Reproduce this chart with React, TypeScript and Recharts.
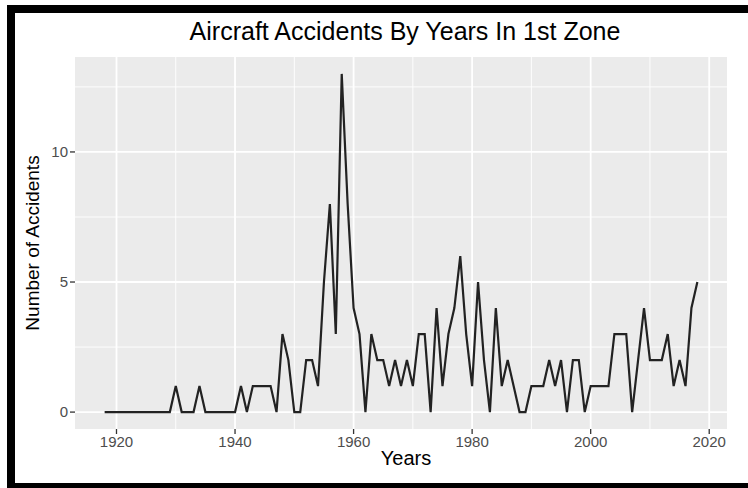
import { LineChart, Line, XAxis, YAxis, CartesianGrid, ReferenceLine } from 'recharts';

// Years on the x axis
const years = [
  1918, 1919, 1920, 1921, 1922, 1923, 1924, 1925, 1926, 1927,
  1928, 1929, 1930, 1931, 1932, 1933, 1934, 1935, 1936, 1937,
  1938, 1939, 1940, 1941, 1942, 1943, 1944, 1945, 1946, 1947,
  1948, 1949, 1950, 1951, 1952, 1953, 1954, 1955, 1956, 1957,
  1958, 1959, 1960, 1961, 1962, 1963, 1964, 1965, 1966, 1967,
  1968, 1969, 1970, 1971, 1972, 1973, 1974, 1975, 1976, 1977,
  1978, 1979, 1980, 1981, 1982, 1983, 1984, 1985, 1986, 1987,
  1988, 1989, 1990, 1991, 1992, 1993, 1994, 1995, 1996, 1997,
  1998, 1999, 2000, 2001, 2002, 2003, 2004, 2005, 2006, 2007,
  2008, 2009, 2010, 2011, 2012, 2013, 2014, 2015, 2016, 2017,
  2018,
];

// Number of accidents per year
const accidents = [
  0, 0, 0, 0, 0, 0, 0, 0, 0, 0,
  0, 0, 1, 0, 0, 0, 1, 0, 0, 0,
  0, 0, 0, 1, 0, 1, 1, 1, 1, 0,
  3, 2, 0, 0, 2, 2, 1, 5, 8, 3,
  13, 8, 4, 3, 0, 3, 2, 2, 1, 2,
  1, 2, 1, 3, 3, 0, 4, 1, 3, 4,
  6, 3, 1, 5, 2, 0, 4, 1, 2, 1,
  0, 0, 1, 1, 1, 2, 1, 2, 0, 2,
  2, 0, 1, 1, 1, 1, 3, 3, 3, 0,
  2, 4, 2, 2, 2, 3, 1, 2, 1, 4,
  5,
];

const xTicks = [1920, 1940, 1960, 1980, 2000, 2020];
const xMinor = [1930, 1950, 1970, 1990, 2010];
const yTicks = [0, 5, 10];
const yMinor = [2.5, 7.5, 12.5];

const data = years.map((year, i) => ({ year, count: accidents[i] }));

const FONT = '"Liberation Sans", Arial, sans-serif';

export default function App() {
  return (
    <div
      style={{
        position: 'absolute',
        left: 0,
        top: 0,
        width: 748,
        height: 488,
        overflow: 'hidden',
        background: '#fff',
        fontFamily: FONT,
      }}
    >
      {/* black frame of the screenshot */}
      <div
        style={{
          position: 'absolute',
          left: 7,
          top: 5,
          width: 800,
          height: 486,
          boxSizing: 'border-box',
          borderTop: '8px solid #000',
          borderLeft: '8px solid #000',
          borderBottom: '8px solid #000',
        }}
      />

      <svg width={748} height={488} style={{ position: 'absolute', left: 0, top: 0 }}>
        <text x={405} y={40} textAnchor="middle" fontSize={25} fontFamily={FONT} fill="#000">
          Aircraft Accidents By Years In 1st Zone
        </text>
      </svg>

      <div style={{ position: 'absolute', left: 0, top: 0 }}>
        <LineChart
          width={748}
          height={488}
          data={data}
          margin={{ top: 57, right: 21, bottom: 29, left: 15 }}
        >
          <CartesianGrid
            fill="#EBEBEB"
            stroke="#FFFFFF"
            strokeWidth={1.8}
            horizontalValues={yTicks}
            verticalValues={xTicks}
          />
          {xMinor.map(v => (
            <ReferenceLine key={'x' + v} x={v} stroke="#FFFFFF" strokeWidth={0.9} />
          ))}
          {yMinor.map(v => (
            <ReferenceLine key={'y' + v} y={v} stroke="#FFFFFF" strokeWidth={0.9} />
          ))}
          <XAxis
            dataKey="year"
            type="number"
            domain={[1913, 2023]}
            ticks={xTicks}
            allowDataOverflow
            axisLine={false}
            tickLine={{ stroke: '#333333', strokeWidth: 1.3 }}
            tickSize={5}
            tick={{ fill: '#4D4D4D', fontSize: 15, fontFamily: FONT }}
            label={{
              value: 'Years',
              position: 'bottom',
              offset: -8,
              dx: 5,
              fill: '#000',
              fontSize: 20,
              fontFamily: FONT,
            }}
          />
          <YAxis
            type="number"
            domain={[-0.65, 13.65]}
            ticks={yTicks}
            allowDataOverflow
            axisLine={false}
            tickLine={{ stroke: '#333333', strokeWidth: 1.3 }}
            tickSize={5}
            tick={{ fill: '#4D4D4D', fontSize: 15, fontFamily: FONT }}
            label={{
              value: 'Number of Accidents',
              angle: -90,
              position: 'insideLeft',
              offset: 17,
              style: { textAnchor: 'middle' },
              fill: '#000',
              fontSize: 19,
              fontFamily: FONT,
            }}
          />
          <Line
            type="linear"
            dataKey="count"
            stroke="#222222"
            strokeWidth={2.2}
            dot={false}
            activeDot={false}
            isAnimationActive={false}
          />
        </LineChart>
      </div>
    </div>
  );
}
